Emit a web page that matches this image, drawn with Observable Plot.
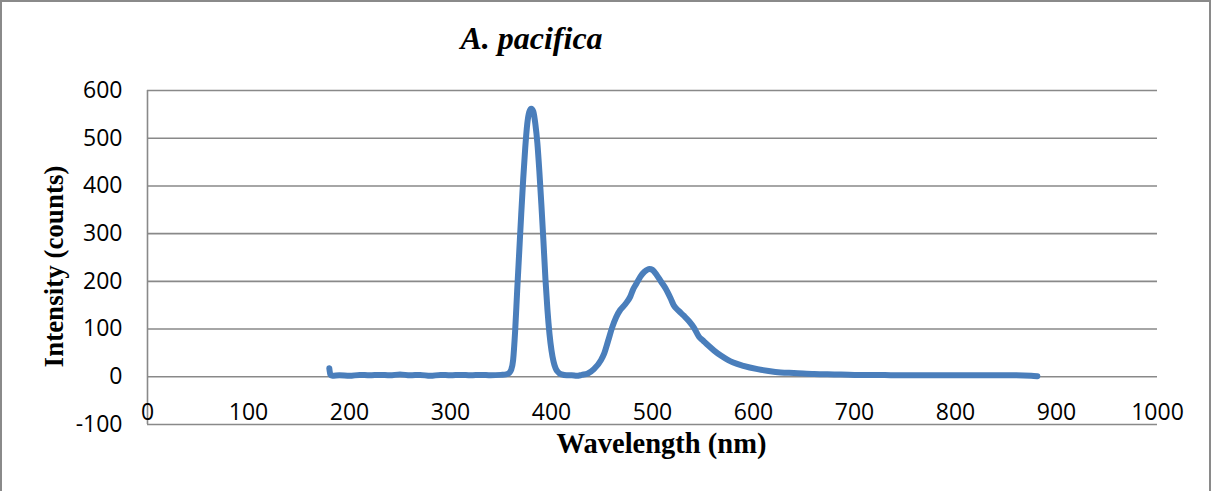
<!DOCTYPE html>
<html>
<head>
<meta charset="utf-8">
<script src="https://cdn.jsdelivr.net/npm/d3@7"></script>
<script src="https://cdn.jsdelivr.net/npm/@observablehq/plot@0.6"></script>
<style>
  html, body { margin: 0; padding: 0; background: #fff; overflow: hidden; }
  #chart { position: absolute; left: 0; top: 0; }
  #border { position: absolute; left: 0px; top: 0px; width: 1207px; height: 500px;
            border: 2px solid #8a8a8a; pointer-events: none; }
</style>
</head>
<body>
<div id="chart"></div>
<div id="border"></div>
<script>
const title = "A. pacifica";
const xTitle = "Wavelength (nm)";
const yTitle = "Intensity (counts)";
const xTicks = [0, 100, 200, 300, 400, 500, 600, 700, 800, 900, 1000];
const yTicks = [-100, 0, 100, 200, 300, 400, 500, 600];

const wavelength = [
  180, 181, 183, 190, 200, 210, 220, 230, 240, 250, 260, 270, 280, 290, 300, 310, 320, 330, 340, 350,
  355, 358, 360, 362, 364, 366, 368, 370, 372, 374, 376, 378, 380, 382, 384, 386, 388, 390, 392, 394,
  396, 398, 400, 402, 404, 406, 408, 410, 415, 420, 425, 430, 436, 442, 449, 452, 456, 460, 464, 468,
  473, 478, 481, 484, 488, 492, 497, 500, 504, 508, 513, 518, 521, 526, 531, 536, 541, 546, 550, 555,
  561, 568, 575, 580, 590, 604, 615, 627, 640, 660, 680, 700, 720, 740, 760, 780, 800, 820, 840, 860,
  875, 881
];
const intensity = [
  18, 5, 2, 3, 2, 4, 3, 4, 3, 5, 3, 4, 2, 4, 3, 4, 3, 4, 3, 4,
  5, 8, 14, 35, 96, 180, 260, 340, 415, 480, 530, 555, 562, 556, 530, 490, 430, 360, 285, 205,
  140, 90, 55, 32, 18, 11, 7, 5, 3, 3, 2, 4, 7, 16, 35, 48, 75, 103, 125, 140,
  152, 168, 184, 195, 210, 220, 226, 224, 214, 201, 185, 164, 150, 138, 128, 117, 103, 84, 76, 66,
  55, 44, 35, 30, 23, 16, 12, 9, 8, 6, 5, 4, 4, 3, 3, 3, 3, 3, 3, 3,
  2, 1
];

const data = wavelength.map((w, i) => ({w, v: intensity[i]}));
const gridColor = "#898989";
const serif = "'Liberation Serif', 'Times New Roman', serif";
const sans = "'Open Sans', 'Liberation Sans', sans-serif";

const chart = Plot.plot({
  width: 1213,
  height: 491,
  marginTop: 90,
  marginBottom: 67,
  marginLeft: 147,
  marginRight: 56,
  style: {background: "transparent", overflow: "visible"},
  x: {domain: [0, 1000], ticks: xTicks},
  y: {domain: [-100, 600], ticks: yTicks},
  marks: [
    Plot.gridY(yTicks, {stroke: gridColor, strokeOpacity: 1, strokeWidth: 1.6}),
    Plot.ruleX([0], {y1: -100, y2: 600, stroke: gridColor, strokeWidth: 1.6}),
    Plot.axisY(yTicks, {tickSize: 0, tickPadding: 25, fontSize: 23, fontFamily: sans, fill: "#000", label: null, tickFormat: d => String(d)}),
    Plot.axisX(xTicks, {tickSize: 0, tickPadding: 0, dy: -21, fontSize: 23, fontFamily: sans, fill: "#000", label: null, tickFormat: d => String(d)}),
    Plot.line(data, {x: "w", y: "v", stroke: "#4a7ebb", strokeWidth: 6, curve: "monotone-x", strokeLinejoin: "round", strokeLinecap: "round"}),
    Plot.text([title], {frameAnchor: "top", textAnchor: "middle", lineAnchor: "bottom", dx: -121, dy: -42, fontSize: 32, fontWeight: "bold", fontStyle: "italic", fontFamily: serif, fill: "#000"}),
    Plot.text([xTitle], {frameAnchor: "bottom", textAnchor: "middle", lineAnchor: "bottom", dx: 9, dy: 28, fontSize: 28.5, fontWeight: "bold", fontFamily: serif, fill: "#000"}),
    Plot.text([yTitle], {frameAnchor: "left", textAnchor: "middle", lineAnchor: "bottom", rotate: -90, dx: -85, dy: 9, fontSize: 27, fontWeight: "bold", fontFamily: serif, fill: "#000"})
  ]
});
document.getElementById("chart").appendChild(chart);
</script>
</body>
</html>
